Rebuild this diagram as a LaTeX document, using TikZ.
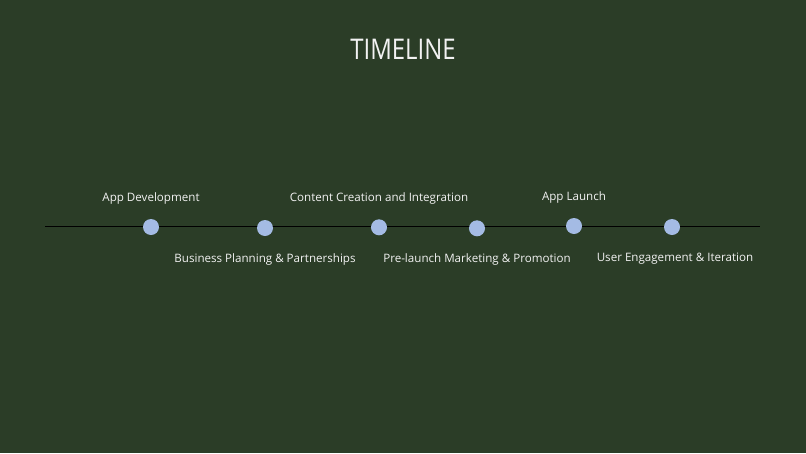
\documentclass[tikz,border=0pt]{standalone}
\usepackage{fontspec}
\usepackage{tikz}
\setmainfont{Open Sans}
\definecolor{bggreen}{HTML}{2B3D27}
\definecolor{dotblue}{HTML}{A4BBE4}
\definecolor{txtwhite}{HTML}{F2F2F2}

\begin{document}
\begin{tikzpicture}[x=1pt,y=1pt]
\tikzstyle{every node}+=[inner sep=0pt]
\tikzstyle{stage}=[circle,fill=dotblue,minimum size=16pt]
\tikzstyle{lbl}=[text=txtwhite,anchor=base,font=\fontsize{11.6}{14}\selectfont]
\fill [bggreen] (0,0) rectangle (806,-453);
\useasboundingbox (0,0) rectangle (806,-453);
\draw (403,-59) node [anchor=base,text=txtwhite] {\scalebox{0.84}[1]{\fontsize{28.5}{30}\selectfont TIMELINE}};
\coordinate (lstart) at (45,-226.6);
\coordinate (lend) at (760,-226.6);
\draw [black,line width=1.5pt] (lstart) -- (lend);
\node [stage] (s1) at (151,-227) {};
\node [stage] (s2) at (265,-228) {};
\node [stage] (s3) at (379,-227.3) {};
\node [stage] (s4) at (477,-228.3) {};
\node [stage] (s5) at (574,-226) {};
\node [stage] (s6) at (672,-227) {};
\node [lbl] at (151,-201) {App Development};
\node [lbl] at (265,-262) {Business Planning \& Partnerships};
\node [lbl] at (379,-201) {Content Creation and Integration};
\node [lbl] at (477,-262) {Pre-launch Marketing \& Promotion};
\node [lbl] at (574,-200) {App Launch};
\node [lbl] at (675,-261) {User Engagement \& Iteration};
\end{tikzpicture}
\end{document}
